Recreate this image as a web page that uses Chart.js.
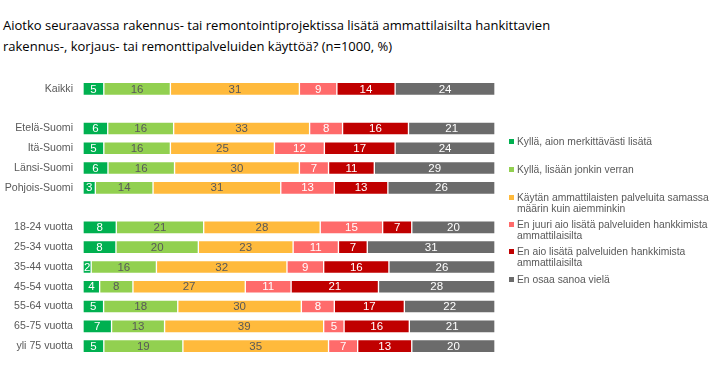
<!DOCTYPE html>
<html>
<head>
<meta charset="utf-8">
<script src="https://cdn.jsdelivr.net/npm/chart.js@4/dist/chart.umd.min.js"></script>
<style>
  body { margin: 0; background: #fff; }
  #wrap { position: relative; width: 720px; height: 379px; overflow: hidden; }
  #title { position: absolute; left: 3px; top: 15px; font-family: "Open Sans", sans-serif; font-size: 13px; line-height: 21px; color: #000; white-space: nowrap; }
  #legend { position: absolute; left: 509px; top: 0; font-family: "Liberation Sans", Arial, sans-serif; font-size: 10.3px; line-height: 11px; color: #595959; }
  #legend div { position: absolute; width: 210px; padding-left: 8px; }
  #legend span { position: absolute; left: 0; top: 3px; width: 5px; height: 5px; }
  canvas { position: absolute; left: 0; top: 0; }
</style>
</head>
<body>
<div id="wrap">
  <div id="title">Aiotko seuraavassa rakennus- tai remontointiprojektissa lisätä ammattilaisilta hankittavien<br>rakennus-, korjaus- tai remonttipalveluiden käyttöä? (n=1000, %)</div>
  <canvas id="chart" width="720" height="379"></canvas>
  <div id="legend"></div>
</div>
<script>
// rivit, tyhjät rivit ryhmien välissä
const categories = ["Kaikki", "", "Etelä-Suomi", "Itä-Suomi", "Länsi-Suomi", "Pohjois-Suomi", "",
    "18-24 vuotta", "25-34 vuotta", "35-44 vuotta", "45-54 vuotta", "55-64 vuotta", "65-75 vuotta", "yli 75 vuotta"];

const seriesNames = [
    "Kyllä, aion merkittävästi lisätä",
    "Kyllä, lisään jonkin verran",
    "Käytän ammattilaisten palveluita samassa määrin kuin aiemminkin",
    "En juuri aio lisätä palveluiden hankkimista ammattilaisilta",
    "En aio lisätä palveluiden hankkimista ammattilaisilta",
    "En osaa sanoa vielä"
];

const merkittavasti = [5, null, 6, 5, 6, 3, null, 8, 8, 2, 4, 5, 7, 5];
const jonkinVerran  = [16, null, 16, 16, 16, 14, null, 21, 20, 16, 8, 18, 13, 19];
const samassa       = [31, null, 33, 25, 30, 31, null, 28, 23, 32, 27, 30, 39, 35];
const enJuuri       = [9, null, 8, 12, 7, 13, null, 15, 11, 9, 11, 8, 5, 7];
const enAio         = [14, null, 16, 17, 11, 13, null, 7, 7, 16, 21, 17, 16, 13];
const enOsaa        = [24, null, 21, 24, 29, 26, null, 20, 31, 26, 28, 22, 21, 20];

const colors = ["#00B050", "#92D050", "#FFBA3C", "#FF6B6B", "#C00000", "#6B6B6B"];
const labelColors = ["#ffffff", "#595959", "#595959", "#ffffff", "#ffffff", "#ffffff"];

// legendan rivitys ja paikat
const legendLines = [
    ["Kyllä, aion merkittävästi lisätä"],
    ["Kyllä, lisään jonkin verran"],
    ["Käytän ammattilaisten palveluita samassa", "määrin kuin aiemminkin"],
    ["En juuri aio lisätä palveluiden hankkimista", "ammattilaisilta"],
    ["En aio lisätä palveluiden hankkimista", "ammattilaisilta"],
    ["En osaa sanoa vielä"]
];
const legendTops = [136, 164, 192, 219, 246, 274];

const raw = [merkittavasti, jonkinVerran, samassa, enJuuri, enAio, enOsaa];
// pyöristetyt luvut eivät aina summaudu sataan -> skaalataan rivi sataan
const rowSums = categories.map((c, i) => raw.reduce((s, arr) => s + (arr[i] || 0), 0));

const datasets = raw.map((arr, k) => ({
    label: seriesNames[k],
    data: arr.map((v, i) => v == null ? null : v / rowSums[i] * 100),
    raw: arr,
    backgroundColor: colors[k],
    borderColor: "rgba(255,255,255,0.45)",
    borderWidth: 1,
    borderSkipped: false,
    barThickness: 13
}));

const valueLabels = {
    id: "valueLabels",
    afterDatasetsDraw(chart) {
        const ctx = chart.ctx;
        ctx.save();
        ctx.font = "11.5px 'Liberation Sans', Arial, sans-serif";
        ctx.textAlign = "center";
        ctx.textBaseline = "middle";
        chart.data.datasets.forEach((ds, k) => {
            chart.getDatasetMeta(k).data.forEach((bar, i) => {
                const v = ds.raw[i];
                if (v == null) return;
                ctx.fillStyle = labelColors[k];
                ctx.fillText(String(v), (bar.base + bar.x) / 2, bar.y + 0.5);
            });
        });
        ctx.restore();
    }
};

new Chart(document.getElementById("chart"), {
    type: "bar",
    data: { labels: categories, datasets: datasets },
    options: {
        indexAxis: "y",
        responsive: false,
        animation: false,
        layout: { padding: { left: 0, right: 225, top: 79, bottom: 23 } },
        plugins: { legend: { display: false }, tooltip: { enabled: false } },
        scales: {
            x: { stacked: true, min: 0, max: 100, display: false },
            y: {
                stacked: true,
                grid: { display: false, drawTicks: false },
                border: { display: false },
                ticks: {
                    color: "#595959",
                    font: { family: "'Liberation Sans', Arial, sans-serif", size: 10.6 },
                    padding: 10
                },
                afterFit(scale) { scale.width = 83; }
            }
        }
    },
    plugins: [valueLabels]
});

const legendEl = document.getElementById("legend");
legendLines.forEach((lines, k) => {
    const d = document.createElement("div");
    d.style.top = legendTops[k] + "px";
    d.innerHTML = '<span style="background:' + colors[k] + '"></span>' + lines.join("<br>");
    legendEl.appendChild(d);
});
</script>
</body>
</html>
